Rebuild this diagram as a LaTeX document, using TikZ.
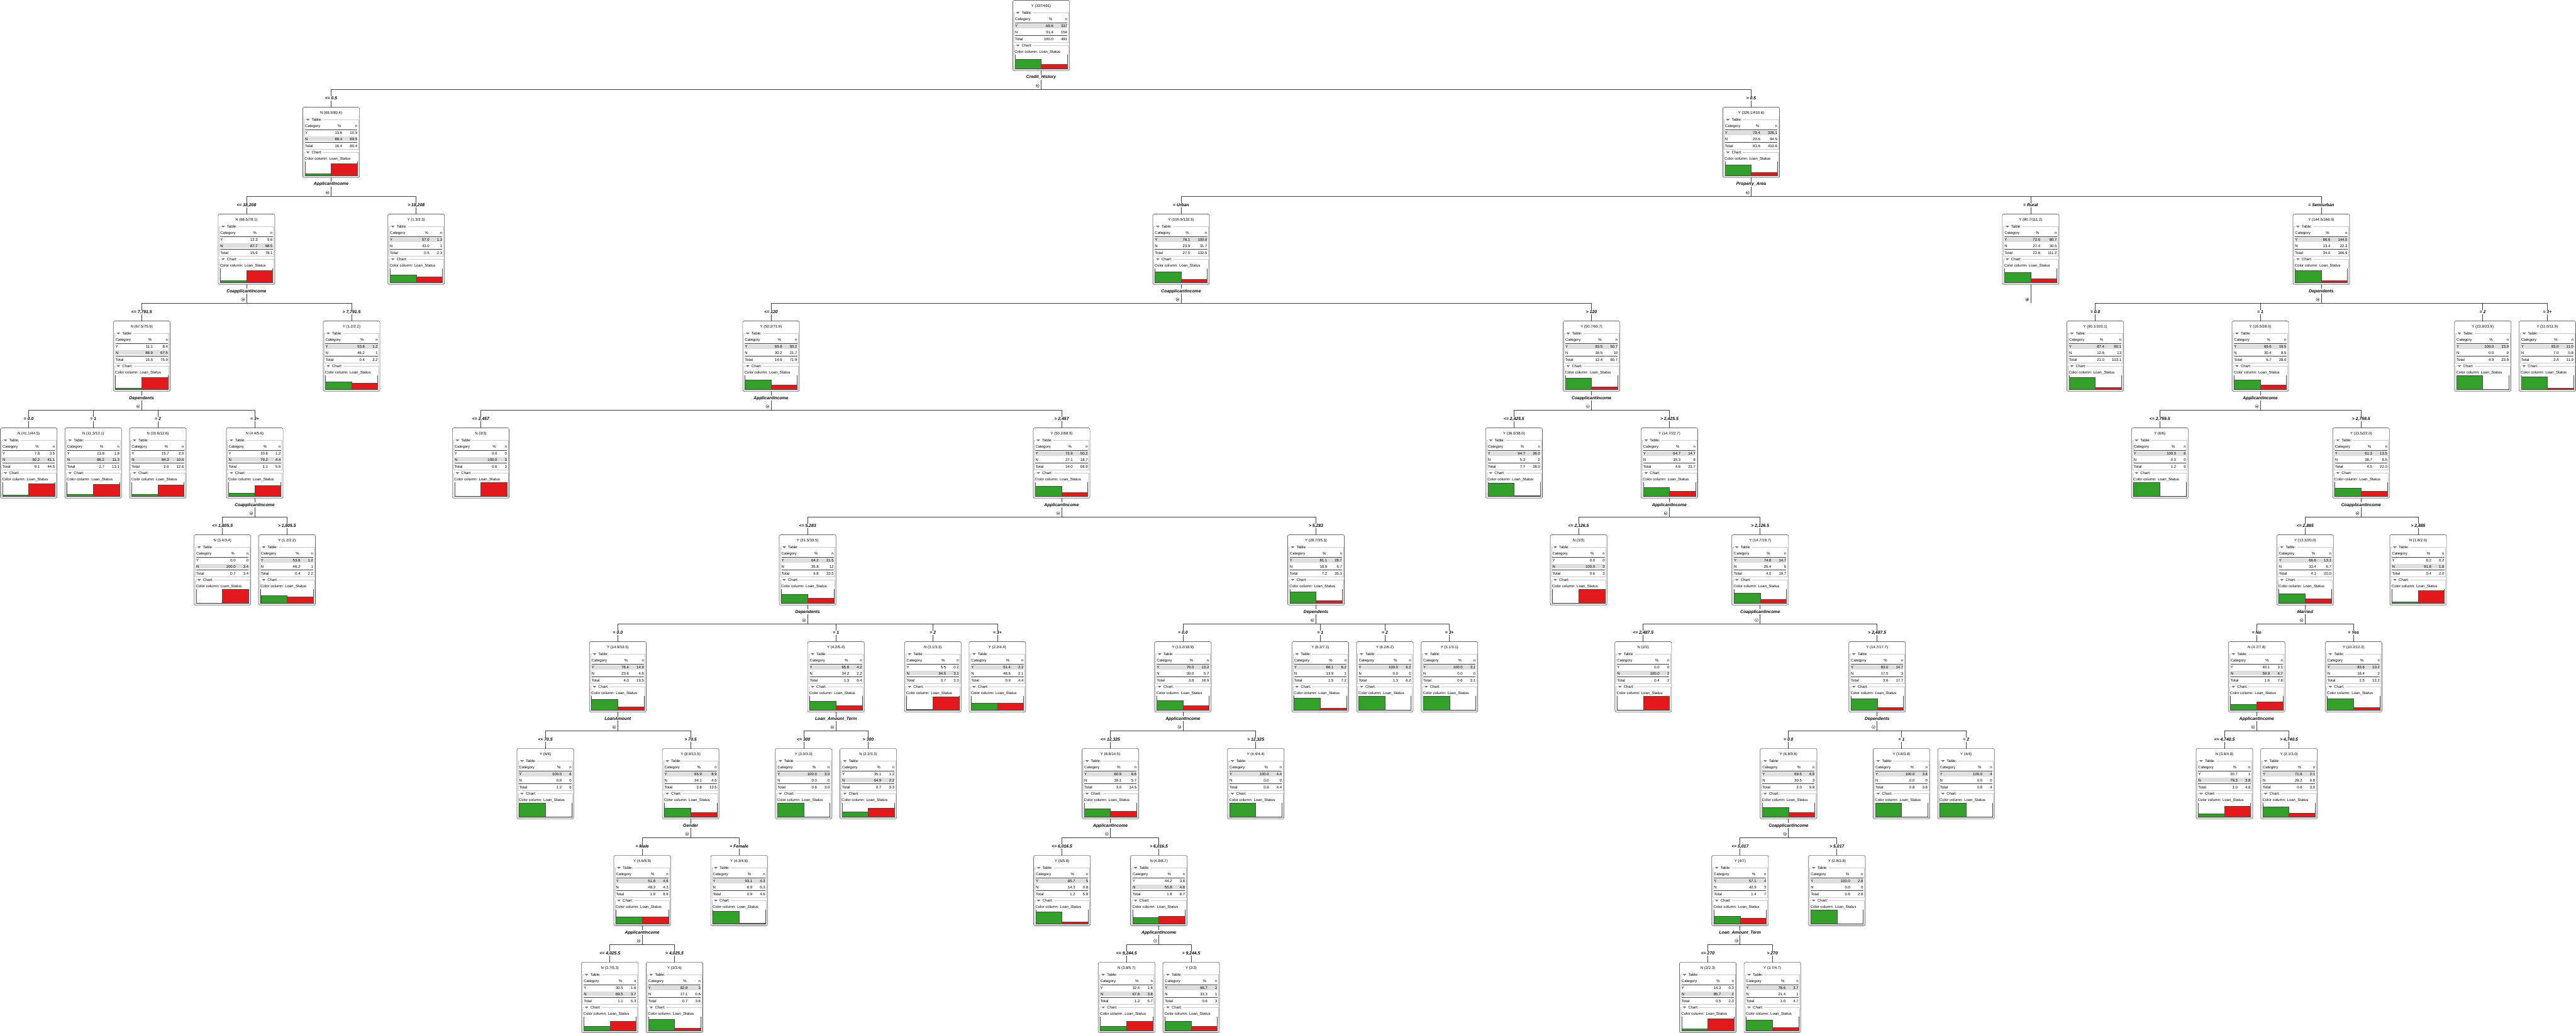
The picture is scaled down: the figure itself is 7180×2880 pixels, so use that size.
\documentclass[tikz,border=0pt]{standalone}
\usepackage{fontspec}
\setmainfont{Liberation Sans}
\newcommand\nodefont{\fontsize{10.5}{12}\selectfont}
\newcommand\lblfont{\fontsize{12}{14}\selectfont\bfseries\itshape}
\def\symY{Y}
\definecolor{ggreen}{RGB}{51,160,44}
\definecolor{rred}{RGB}{227,26,28}
\definecolor{hlgray}{RGB}{222,222,222}
\definecolor{framegray}{RGB}{200,200,200}
\definecolor{bordergray}{RGB}{100,100,100}
\definecolor{linegray}{RGB}{64,64,64}
\definecolor{trigray}{RGB}{120,120,120}
\tikzset{
  treebox/.style={draw=bordergray, line width=1.2pt, fill=white, rounded corners=4pt,
    minimum width=158pt, minimum height=196pt, inner sep=0pt, outer sep=0pt},
  tline/.style={draw=linegray, line width=1.3pt},
  splitlbl/.style={font=\lblfont, fill=white, inner sep=1.5pt},
  branchlbl/.style={font=\lblfont, fill=white, inner sep=1.5pt},
  txt/.style={font=\nodefont, inner sep=0pt},
  grpframe/.style={draw=framegray, line width=0.8pt},
  tabrule/.style={draw=black!75, line width=1pt},
  axisline/.style={draw=black!70, line width=0.9pt},
  barline/.style={draw=black!70, line width=0.8pt},
  minusicon/.style={circle, draw=linegray, line width=0.8pt, fill=white, minimum size=9pt, inner sep=0pt,
    path picture={\draw[linegray, line width=0.8pt] ([xshift=2pt]path picture bounding box.west) -- ([xshift=-2pt]path picture bounding box.east);}},
  plusicon/.style={circle, draw=linegray, line width=0.8pt, fill=white, minimum size=9pt, inner sep=0pt,
    path picture={\draw[linegray, line width=0.8pt] ([xshift=2pt]path picture bounding box.west) -- ([xshift=-2pt]path picture bounding box.east);
      \draw[linegray, line width=0.8pt] ([yshift=2pt]path picture bounding box.south) -- ([yshift=-2pt]path picture bounding box.north);}}
}
\begin{document}
\begin{tikzpicture}[x=1pt,y=-1pt]
\fill[white] (0,0) rectangle (7180,2880);
\useasboundingbox (0,0) rectangle (7180,2880);

% ---------- node boxes ----------
\foreach \nm/\cx/\r/\hl/\yp/\yn/\np/\nn/\tp/\tn in {
n0/2902/0/Y/68.6/337/31.4/154/100.0/491,
n1/923/1/N/13.6/10.9/86.4/69.5/16.4/80.4,
n2/4881/1/Y/79.4/326.1/20.6/84.5/83.6/410.6,
n3/687/2/N/12.3/9.6/87.7/68.5/15.9/78.1,
n4/1160/2/Y/57.0/1.3/43.0/1/0.5/2.3,
n5/3292/2/Y/76.1/100.9/23.9/31.7/27.0/132.5,
n6/5660/2/Y/72.6/80.7/27.4/30.5/22.6/111.2,
n7/6470/2/Y/86.6/144.5/13.4/22.3/34.0/166.9,
n8/395/3/N/11.1/8.4/88.9/67.5/15.5/75.9,
n9/980/3/Y/53.8/1.2/46.2/1/0.4/2.2,
n10/2149/3/Y/69.8/50.2/30.2/21.7/14.6/71.9,
n11/4436/3/Y/83.5/50.7/16.5/10/12.4/60.7,
n12/5840/3/Y/87.4/90.1/12.6/13/21.0/103.1,
n13/6300/3/Y/69.6/19.5/30.4/8.5/5.7/28.0,
n14/6920/3/Y/100.0/23.9/0.0/0/4.9/23.9,
n15/7100/3/Y/93.0/11.0/7.0/0.8/2.4/11.9,
n16/80/4/N/7.8/3.5/92.2/41.1/9.1/44.5,
n17/260/4/N/13.8/1.8/86.2/11.3/2.7/13.1,
n18/440/4/N/15.7/2.0/84.3/10.6/2.6/12.6,
n19/710/4/N/20.8/1.2/79.2/4.4/1.1/5.6,
n20/1340/4/N/0.0/0/100.0/3/0.6/3,
n21/2959/4/Y/72.9/50.2/27.1/18.7/14.0/68.9,
n22/4220/4/Y/94.7/36.0/5.3/2/7.7/38.0,
n23/4653/4/Y/64.7/14.7/35.3/8/4.6/22.7,
n24/6020/4/Y/100.0/6/0.0/0/1.2/6,
n25/6581/4/Y/61.3/13.5/38.7/8.5/4.5/22.0,
n26/620/5/N/0.0/0/100.0/3.4/0.7/3.4,
n27/800/5/Y/53.8/1.2/46.2/1/0.4/2.2,
n28/2251/5/Y/64.2/21.5/35.8/12/6.8/33.5,
n29/3668/5/Y/81.1/28.7/18.9/6.7/7.2/35.3,
n30/4400/5/N/0.0/0/100.0/3/0.6/3,
n31/4906/5/Y/74.6/14.7/25.4/5/4.0/19.7,
n32/6425/5/Y/66.6/13.3/33.4/6.7/4.1/20.0,
n33/6740/5/N/8.2/0.2/91.8/1.8/0.4/2.0,
n34/1722/6/Y/76.4/14.9/23.6/4.6/4.0/19.5,
n35/2330/6/Y/65.8/4.2/34.2/2.2/1.3/6.4,
n36/2600/6/N/5.5/0.2/94.5/3.1/0.7/3.3,
n37/2780/6/Y/51.4/2.2/48.6/2.1/0.9/4.4,
n38/3297/6/Y/70.0/13.2/30.0/5.7/3.8/18.9,
n39/3680/6/Y/86.1/6.2/13.9/1/1.5/7.2,
n40/3860/6/Y/100.0/6.2/0.0/0/1.3/6.2,
n41/4040/6/Y/100.0/3.1/0.0/0/0.6/3.1,
n42/4580/6/N/0.0/0/100.0/2/0.4/2,
n43/5232/6/Y/83.0/14.7/17.0/3/3.6/17.7,
n44/6290/6/N/40.1/3.1/59.9/4.7/1.6/7.8,
n45/6560/6/Y/83.6/10.2/16.4/2/2.5/12.2,
n46/1520/7/Y/100.0/6/0.0/0/1.2/6,
n47/1925/7/Y/65.9/8.9/34.1/4.6/2.8/13.5,
n48/2240/7/Y/100.0/3.0/0.0/0/0.6/3.0,
n49/2420/7/N/35.1/1.2/64.9/2.2/0.7/3.3,
n50/3095/7/Y/60.9/8.8/39.1/5.7/3.0/14.5,
n51/3500/7/Y/100.0/4.4/0.0/0/0.9/4.4,
n52/4985/7/Y/69.5/6.8/30.5/3/2.0/9.8,
n53/5300/7/Y/100.0/3.8/0.0/0/0.8/3.8,
n54/5480/7/Y/100.0/4/0.0/0/0.8/4,
n55/6200/7/N/20.7/1/79.3/3.8/1.0/4.8,
n56/6380/7/Y/71.8/2.1/28.2/0.8/0.6/3.0,
n57/1790/8/Y/51.8/4.6/48.2/4.3/1.8/8.9,
n58/2060/8/Y/93.1/4.3/6.9/0.3/0.9/4.6,
n59/2960/8/Y/85.7/5/14.3/0.8/1.2/5.8,
n60/3230/8/N/44.2/3.8/55.8/4.8/1.8/8.7,
n61/4850/8/Y/57.1/4/42.9/3/1.4/7,
n62/5120/8/Y/100.0/2.8/0.0/0/0.6/2.8,
n63/1700/9/N/30.5/1.6/69.5/3.7/1.1/5.3,
n64/1880/9/Y/82.9/3/17.1/0.6/0.7/3.6,
n65/3140/9/N/32.4/1.8/67.6/3.8/1.2/5.7,
n66/3320/9/Y/66.7/2/33.3/1/0.6/3,
n67/4760/9/N/14.3/0.3/85.7/2/0.5/2.3,
n68/4940/9/Y/78.6/3.7/21.4/1/1.0/4.7}{
  \node[treebox] (\nm) at (\cx, 298*\r+99) {};
  \ifx\hl\symY \let\maj\yn \else \let\maj\nn \fi
  \begin{scope}[shift={(\cx-79, 298*\r+1)}]
    \node[txt, anchor=base] at (79,19) {\hl\ (\maj/\tn)};
    % table group
    \draw[grpframe] (3,35) rectangle (155,117);
    \fill[white] (7,30) rectangle (56,40);
    \fill[trigray] (9,32.5) -- (19,32.5) -- (14,37.5) -- cycle;
    \node[txt, anchor=base west] at (24.5,39) {Table:};
    \ifx\hl\symY \fill[hlgray] (6,66) rectangle (152,78); \else \fill[hlgray] (6,82) rectangle (152,94); \fi
    \node[txt, anchor=base west] at (6,56) {Category};
    \node[txt, anchor=base east] at (152,56) {n};
    \draw[tabrule] (6,62) -- (152,62);
    \node[txt, anchor=base west] at (6,76) {Y};
    \node[txt, anchor=base east] at (152,76) {\yn};
    \node[txt, anchor=base west] at (6,92) {N};
    \node[txt, anchor=base east] at (152,92) {\nn};
    \draw[tabrule] (6,98) -- (152,98);
    \node[txt, anchor=base west] at (6,112) {Total};
    \node[txt, anchor=base east] (tncell) at (152,112) {\tn};
    \path (tncell.base west) ++(-21,0) node[txt, anchor=base east] {\tp}
          ++(0,-20) node[txt, anchor=base east] {\np}
          ++(0,-16) node[txt, anchor=base east] {\yp}
          ++(-3,-20) node[txt, anchor=base east] {\%};
    % chart group
    \draw[grpframe] (3,126) rectangle (155,193);
    \fill[white] (7,121) rectangle (56,131);
    \fill[trigray] (9,123.5) -- (19,123.5) -- (14,128.5) -- cycle;
    \node[txt, anchor=base west] at (24.5,130) {Chart:};
    \node[txt, anchor=base west] at (5,147) {Color column: Loan\_Status};
    \pgfmathsetmacro\gh{190.5-0.385*\yp}
    \pgfmathsetmacro\rh{190.5-0.385*\np}
    \fill[ggreen] (6,190.5) rectangle (79,\gh);
    \fill[rred] (79,190.5) rectangle (152,\rh);
    \draw[barline] (6,190.5) rectangle (79,\gh);
    \draw[barline] (79,190.5) rectangle (152,\rh);
    \draw[axisline] (6,152) -- (6,190.5) -- (152,190.5) -- (152,152);
  \end{scope}
}

% ---------- connectors ----------
\foreach \pp/\cc/\lab in {
n0/n1/{<= 0.5}, n0/n2/{> 0.5},
n1/n3/{<= 18,208}, n1/n4/{> 18,208},
n2/n5/{= Urban}, n2/n6/{= Rural}, n2/n7/{= Semiurban},
n3/n8/{<= 7,791.5}, n3/n9/{> 7,791.5},
n5/n10/{<= 120}, n5/n11/{> 120},
n7/n12/{= 0.0}, n7/n13/{= 1}, n7/n14/{= 2}, n7/n15/{= 3+},
n8/n16/{= 0.0}, n8/n17/{= 1}, n8/n18/{= 2}, n8/n19/{= 3+},
n10/n20/{<= 2,457}, n10/n21/{> 2,457},
n11/n22/{<= 2,425.5}, n11/n23/{> 2,425.5},
n13/n24/{<= 2,759.5}, n13/n25/{> 2,759.5},
n19/n26/{<= 1,805.5}, n19/n27/{> 1,805.5},
n21/n28/{<= 5,283}, n21/n29/{> 5,283},
n23/n30/{<= 2,126.5}, n23/n31/{> 2,126.5},
n25/n32/{<= 2,885}, n25/n33/{> 2,885},
n28/n34/{= 0.0}, n28/n35/{= 1}, n28/n36/{= 2}, n28/n37/{= 3+},
n29/n38/{= 0.0}, n29/n39/{= 1}, n29/n40/{= 2}, n29/n41/{= 3+},
n31/n42/{<= 2,487.5}, n31/n43/{> 2,487.5},
n32/n44/{= No}, n32/n45/{= Yes},
n34/n46/{<= 70.5}, n34/n47/{> 70.5},
n35/n48/{<= 300}, n35/n49/{> 300},
n38/n50/{<= 12,325}, n38/n51/{> 12,325},
n43/n52/{= 0.0}, n43/n53/{= 1}, n43/n54/{= 2},
n44/n55/{<= 4,740.5}, n44/n56/{> 4,740.5},
n47/n57/{= Male}, n47/n58/{= Female},
n50/n59/{<= 6,016.5}, n50/n60/{> 6,016.5},
n52/n61/{<= 5,017}, n52/n62/{> 5,017},
n57/n63/{<= 4,025.5}, n57/n64/{> 4,025.5},
n60/n65/{<= 9,244.5}, n60/n66/{> 9,244.5},
n61/n67/{<= 270}, n61/n68/{> 270}}{
  \draw[tline] (\pp.south) -- ++(0,52) -| (\cc.north);
  \path (\cc.north) ++(0,-25) node[branchlbl] {\lab};
}

% collapsed node
\draw[tline] (n6.south) -- ++(0,52);
\path (n6.south) ++(-10,42) node[plusicon] {};

% split attribute labels
\foreach \pp/\lab in {n0/Credit\_History, n1/ApplicantIncome, n2/Property\_Area,
 n3/CoapplicantIncome, n5/CoapplicantIncome, n7/Dependents, n8/Dependents,
 n10/ApplicantIncome, n11/CoapplicantIncome, n13/ApplicantIncome, n19/CoapplicantIncome,
 n21/ApplicantIncome, n23/ApplicantIncome, n25/CoapplicantIncome, n28/Dependents,
 n29/Dependents, n31/CoapplicantIncome, n32/Married, n34/LoanAmount,
 n35/Loan\_Amount\_Term, n38/ApplicantIncome, n43/Dependents, n44/ApplicantIncome,
 n47/Gender, n50/ApplicantIncome, n52/CoapplicantIncome, n57/ApplicantIncome,
 n60/ApplicantIncome, n61/Loan\_Amount\_Term}{
  \path (\pp.south) ++(0,19) node[splitlbl] {\lab} ++(-10,23) node[minusicon] {};
}
\end{tikzpicture}
\end{document}
